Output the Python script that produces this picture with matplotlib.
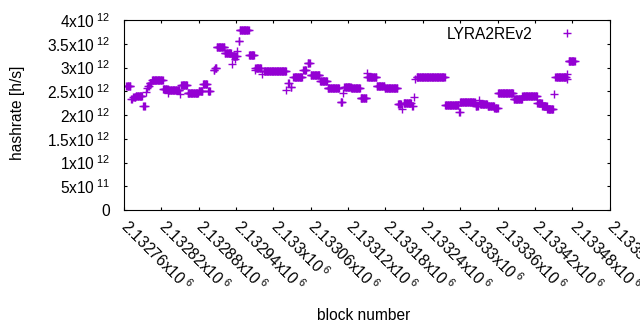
import numpy as np
import matplotlib
matplotlib.use("Agg")
import matplotlib.pyplot as plt
import matplotlib.transforms as mtransforms

# runs of blocks with the same hashrate estimate (first block, last block, h/s)
run_first = [2132764, 2132772, 2132775, 2132779, 2132791, 2132795, 2132797, 2132799,
             2132801, 2132805, 2132823, 2132831, 2132832, 2132850, 2132852, 2132862,
             2132880, 2132887, 2132895, 2132904, 2132906, 2132909, 2132922, 2132933,
             2132934, 2132939, 2132940, 2132942, 2132944, 2132946, 2132961, 2132970,
             2132971, 2132982, 2132985, 2133021, 2133024, 2133028, 2133032, 2133048,
             2133055, 2133060, 2133075, 2133087, 2133108, 2133112, 2133114, 2133125,
             2133140, 2133150, 2133151, 2133166, 2133179, 2133200, 2133207, 2133209,
             2133223, 2133226, 2133228, 2133230, 2133276, 2133298, 2133300, 2133325,
             2133330, 2133332, 2133344, 2133355, 2133361, 2133386, 2133400, 2133424,
             2133432, 2133440, 2133451, 2133453, 2133471, 2133472, 2133474]
run_last = [2132770, 2132773, 2132778, 2132789, 2132793, 2132795, 2132797, 2132800,
            2132804, 2132822, 2132830, 2132831, 2132849, 2132850, 2132861, 2132879,
            2132886, 2132893, 2132898, 2132905, 2132908, 2132921, 2132932, 2132933,
            2132938, 2132939, 2132941, 2132942, 2132945, 2132960, 2132969, 2132970,
            2132980, 2132982, 2133020, 2133021, 2133025, 2133029, 2133046, 2133052,
            2133058, 2133074, 2133086, 2133105, 2133110, 2133112, 2133124, 2133139,
            2133149, 2133150, 2133165, 2133178, 2133199, 2133205, 2133207, 2133221,
            2133224, 2133226, 2133228, 2133275, 2133297, 2133299, 2133323, 2133328,
            2133330, 2133343, 2133354, 2133360, 2133385, 2133399, 2133423, 2133431,
            2133439, 2133449, 2133451, 2133470, 2133471, 2133472, 2133484]
run_hashrate = [2.62e12, 2.34e12, 2.38e12, 2.41e12, 2.18e12, 2.49e12, 2.56e12, 2.62e12,
                2.67e12, 2.73e12, 2.55e12, 2.47e12, 2.53e12, 2.44e12, 2.625e12, 2.46e12,
                2.505e12, 2.65e12, 2.50e12, 2.95e12, 2.99e12, 3.43e12, 3.30e12, 3.07e12,
                3.24e12, 3.18e12, 3.24e12, 3.35e12, 3.56e12, 3.80e12, 3.26e12, 2.95e12,
                2.99e12, 2.86e12, 2.92e12, 2.53e12, 2.68e12, 2.59e12, 2.81e12, 2.95e12,
                3.09e12, 2.84e12, 2.71e12, 2.56e12, 2.27e12, 2.47e12, 2.60e12, 2.56e12,
                2.35e12, 2.88e12, 2.79e12, 2.61e12, 2.56e12, 2.24e12, 2.12e12, 2.25e12,
                2.19e12, 2.37e12, 2.75e12, 2.79e12, 2.22e12, 2.06e12, 2.28e12, 2.18e12,
                2.32e12, 2.225e12, 2.20e12, 2.14e12, 2.46e12, 2.34e12, 2.41e12, 2.25e12,
                2.18e12, 2.12e12, 2.44e12, 2.81e12, 2.86e12, 2.75e12, 3.14e12]

xtick_values = list(range(2132760, 2133541, 60))
ytick_values = [0, 0.5e12, 1e12, 1.5e12, 2e12, 2.5e12, 3e12, 3.5e12, 4e12]
ytick_labels = ["0", "5x10$^{\\ 11}$", "1x10$^{\\ 12}$", "1.5x10$^{\\ 12}$",
                "2x10$^{\\ 12}$", "2.5x10$^{\\ 12}$", "3x10$^{\\ 12}$",
                "3.5x10$^{\\ 12}$", "4x10$^{\\ 12}$"]

plt.rcParams["font.family"] = ["Liberation Sans", "DejaVu Sans"]
plt.rcParams["mathtext.fontset"] = "custom"
plt.rcParams["mathtext.rm"] = "Liberation Sans"
plt.rcParams["mathtext.it"] = "Liberation Sans"
plt.rcParams["font.size"] = 11.2

# one point per block
blocks = []
rates = []
for b0, b1, h in zip(run_first, run_last, run_hashrate):
    for b in range(b0, b1 + 1):
        blocks.append(b)
        rates.append(h)

fig = plt.figure(figsize=(6.4, 3.3), dpi=100)
ax = fig.add_axes([124 / 640, 1 - 210 / 330, 485.6 / 640, 190 / 330])

ax.plot(blocks, rates, linestyle="none", marker="+", markersize=5.2,
        markeredgewidth=1.0, color="#9400D3", label="LYRA2REv2")

ax.set_xlim(2132760, 2133540)
ax.set_ylim(0, 4e12)
ax.set_xticks(xtick_values)
ax.set_xticklabels(["%gx10$^{\\ 6}$" % (v / 1e6) for v in xtick_values],
                   rotation=-45, ha="left", va="top", rotation_mode="anchor")
ax.set_yticks(ytick_values)
ax.set_yticklabels(ytick_labels)
ax.tick_params(direction="in", length=2.5, width=0.8, top=True, right=True)
ax.tick_params(axis="y", pad=10)
ax.tick_params(axis="x", pad=5)
shift = mtransforms.ScaledTranslation(7 / 100, 0, fig.dpi_scale_trans)
for lab in ax.get_xticklabels():
    lab.set_transform(lab.get_transform() + shift)
for s in ax.spines.values():
    s.set_linewidth(0.8)

fig.text(18 / 640, 1 - 113 / 330, "hashrate [h/s]", rotation=90,
         ha="center", va="center")
fig.text(364 / 640, 1 - 315 / 330, "block number", ha="center", va="center")

ax.legend(loc="upper right", bbox_to_anchor=(0.944, 0.965), markerfirst=False,
          frameon=False, handlelength=2, handletextpad=1.2, borderpad=0,
          borderaxespad=0, numpoints=1)

fig.savefig("out.png", dpi=100)
